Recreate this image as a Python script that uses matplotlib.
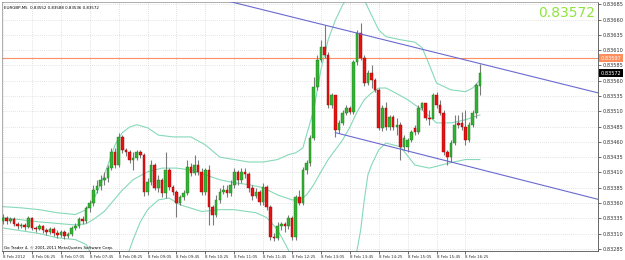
import matplotlib
matplotlib.use("Agg")
import matplotlib.pyplot as plt
import matplotlib.transforms as mtransforms
import numpy as np

# ---------------- data ----------------
title_text = "EURGBP,M5  0.83552 0.83588 0.83536 0.83572"
copyright_text = "Go Trader 4, \u00a9 2001-2011 MetaQuotes Software Corp."
last_price_text = "0.83572"

x_tick_bars = [0, 8, 16, 24, 32, 40, 48, 56, 64, 72, 80, 88, 96, 104, 112, 120, 128]
x_tick_labels = ["8 Feb 2012", "8 Feb 06:25", "8 Feb 07:05", "8 Feb 07:45", "8 Feb 08:25",
                 "8 Feb 09:05", "8 Feb 09:45", "8 Feb 10:25", "8 Feb 11:05", "8 Feb 11:45",
                 "8 Feb 12:25", "8 Feb 13:05", "8 Feb 13:45", "8 Feb 14:25", "8 Feb 15:05",
                 "8 Feb 15:45", "8 Feb 16:25"]
y_ticks = [0.83685, 0.83660, 0.83635, 0.83610, 0.83585, 0.83560, 0.83535, 0.83510, 0.83485,
           0.83460, 0.83435, 0.83410, 0.83385, 0.83360, 0.83335, 0.83310, 0.83285]

# prices in points (1e-5)
open_pts = [83331, 83336, 83331, 83334, 83326, 83323, 83324, 83321, 83336, 83319,
            83318, 83323, 83316, 83313, 83318, 83311, 83308, 83313, 83306, 83310,
            83319, 83323, 83334, 83331, 83352, 83360, 83381, 83388, 83398, 83401,
            83417, 83444, 83422, 83468, 83447, 83444, 83431, 83434, 83444, 83439,
            83378, 83395, 83422, 83385, 83398, 83377, 83414, 83386, 83378, 83360,
            83370, 83377, 83419, 83409, 83422, 83411, 83378, 83414, 83354, 83341,
            83365, 83378, 83381, 83377, 83390, 83411, 83398, 83411, 83408, 83385,
            83372, 83378, 83362, 83386, 83354, 83305, 83303, 83323, 83326, 83323,
            83336, 83305, 83370, 83360, 83414, 83426, 83466, 83550, 83594, 83615,
            83602, 83520, 83537, 83480, 83491, 83507, 83515, 83509, 83591, 83638,
            83597, 83556, 83573, 83561, 83545, 83483, 83515, 83484, 83501, 83484,
            83488, 83452, 83452, 83463, 83483, 83476, 83515, 83524, 83499, 83498,
            83537, 83520, 83507, 83444, 83435, 83458, 83491, 83491, 83484, 83463,
            83488, 83507, 83552]
high_pts = [83342, 83339, 83337, 83337, 83329, 83328, 83328, 83339, 83337, 83323,
            83326, 83324, 83319, 83321, 83321, 83315, 83316, 83315, 83313, 83323,
            83328, 83337, 83339, 83355, 83365, 83390, 83398, 83406, 83411, 83422,
            83450, 83450, 83475, 83471, 83450, 83447, 83444, 83447, 83447, 83442,
            83401, 83431, 83426, 83406, 83401, 83444, 83417, 83390, 83381, 83373,
            83381, 83431, 83426, 83439, 83431, 83417, 83417, 83422, 83357, 83373,
            83385, 83390, 83390, 83398, 83417, 83414, 83417, 83417, 83411, 83390,
            83385, 83381, 83393, 83390, 83357, 83311, 83329, 83329, 83329, 83341,
            83339, 83373, 83381, 83419, 83431, 83471, 83566, 83602, 83627, 83651,
            83607, 83540, 83537, 83496, 83512, 83520, 83519, 83594, 83643, 83654,
            83602, 83578, 83586, 83565, 83548, 83520, 83525, 83504, 83504, 83499,
            83493, 83471, 83466, 83480, 83488, 83520, 83525, 83524, 83512, 83540,
            83542, 83529, 83512, 83447, 83463, 83504, 83504, 83509, 83512, 83493,
            83512, 83556, 83588]
low_pts = [83326, 83326, 83328, 83323, 83318, 83319, 83316, 83319, 83316, 83313,
           83315, 83311, 83308, 83310, 83306, 83303, 83305, 83301, 83303, 83306,
           83316, 83319, 83326, 83328, 83346, 83355, 83377, 83381, 83390, 83395,
           83414, 83417, 83419, 83442, 83437, 83426, 83414, 83431, 83434, 83372,
           83373, 83390, 83381, 83378, 83370, 83368, 83381, 83373, 83337, 83357,
           83365, 83373, 83404, 83406, 83406, 83373, 83373, 83324, 83324, 83337,
           83360, 83375, 83370, 83372, 83385, 83390, 83393, 83401, 83378, 83365,
           83368, 83357, 83357, 83349, 83300, 83298, 83300, 83316, 83313, 83318,
           83300, 83300, 83357, 83357, 83408, 83421, 83463, 83545, 83591, 83597,
           83515, 83515, 83468, 83475, 83488, 83504, 83506, 83506, 83586, 83594,
           83551, 83553, 83548, 83542, 83480, 83478, 83480, 83480, 83480, 83471,
           83431, 83447, 83444, 83460, 83471, 83473, 83512, 83496, 83488, 83499,
           83515, 83504, 83439, 83422, 83427, 83455, 83483, 83480, 83455, 83460,
           83484, 83499, 83536]
close_pts = [83336, 83331, 83334, 83326, 83323, 83324, 83321, 83336, 83319, 83318,
             83323, 83316, 83313, 83318, 83311, 83308, 83313, 83306, 83310, 83319,
             83323, 83334, 83331, 83352, 83360, 83381, 83388, 83398, 83401, 83417,
             83444, 83422, 83468, 83447, 83444, 83431, 83434, 83444, 83439, 83378,
             83395, 83422, 83385, 83398, 83377, 83414, 83386, 83378, 83360, 83370,
             83377, 83419, 83409, 83422, 83411, 83378, 83414, 83354, 83341, 83365,
             83378, 83381, 83377, 83390, 83411, 83398, 83411, 83408, 83385, 83372,
             83378, 83362, 83386, 83354, 83305, 83303, 83323, 83326, 83323, 83336,
             83305, 83370, 83360, 83414, 83426, 83466, 83550, 83594, 83615, 83602,
             83520, 83537, 83480, 83491, 83507, 83515, 83509, 83591, 83638, 83597,
             83556, 83573, 83561, 83545, 83483, 83515, 83484, 83501, 83484, 83488,
             83452, 83466, 83463, 83476, 83476, 83515, 83524, 83499, 83498, 83537,
             83520, 83507, 83444, 83435, 83458, 83488, 83488, 83484, 83463, 83488,
             83507, 83553, 83572]

# Bollinger bands (bar index, price points)
band_bars_upper = [0, 5, 10, 15, 20, 23, 25, 27, 29, 31, 33, 35, 37, 40, 43, 47, 52, 56, 60, 64,
                   68, 72, 76, 79, 81, 83, 84, 86, 88, 90, 92, 94, 96, 98, 100, 102, 104, 106,
                   110, 114, 116, 118, 120, 124, 128, 130, 132]
band_upper_pts = [83354, 83352, 83349, 83344, 83341, 83349, 83365, 83390, 83422, 83455, 83475,
                  83484, 83488, 83483, 83471, 83468, 83468, 83455, 83435, 83431, 83427, 83427,
                  83431, 83439, 83442, 83450, 83471, 83512, 83578, 83627, 83659, 83684, 83700,
                  83705, 83692, 83667, 83643, 83632, 83627, 83623, 83614, 83586, 83556, 83545,
                  83542, 83548, 83561]
band_bars_mid = [0, 10, 20, 23, 25, 28, 30, 33, 36, 40, 44, 48, 52, 56, 60, 64, 68, 72, 76, 80,
                 82, 84, 86, 88, 90, 92, 94, 96, 98, 100, 102, 104, 106, 108, 112, 116, 120,
                 124, 128, 132]
band_mid_pts = [83336, 83329, 83324, 83326, 83333, 83346, 83360, 83381, 83398, 83411, 83417,
                83417, 83414, 83406, 83398, 83393, 83390, 83385, 83373, 83365, 83365, 83373,
                83390, 83411, 83431, 83447, 83463, 83484, 83509, 83529, 83540, 83548, 83548,
                83542, 83529, 83512, 83491, 83491, 83496, 83504]
band_bars_lower = [0, 10, 15, 20, 23, 25, 27, 29, 31, 34, 36, 38, 40, 43, 46, 49, 55, 60, 64,
                   70, 73, 76, 79, 82, 85, 88, 92, 95, 97, 98, 99, 100, 101, 102, 104, 106, 110,
                   114, 118, 124, 128, 132]
band_lower_pts = [83319, 83310, 83303, 83300, 83292, 83270, 83243, 83226, 83226, 83267, 83300,
                  83329, 83349, 83365, 83368, 83357, 83346, 83349, 83349, 83344, 83336, 83316,
                  83283, 83251, 83218, 83185, 83169, 83202, 83267, 83283, 83316, 83365, 83406,
                  83422, 83447, 83458, 83452, 83422, 83417, 83426, 83431, 83431]

# trend channel anchors (bar index, price points)
channel_upper = [(89, 83651), (132, 83588)]
channel_lower = [(92, 83475), (124, 83427)]
level_line_pts = 83597

# ---------------- styles ----------------
BULL = "#33b233"
BEAR = "#e41414"
WICK = "#7a7a7a"
BAND = "#86d9b8"
CHAN = "#6a6ad0"
LEVEL = "#ff8f5e"
GRID = "#c9c9c9"
SMALL = 2.9

o = np.array(open_pts) / 1e5
h = np.array(high_pts) / 1e5
l = np.array(low_pts) / 1e5
c = np.array(close_pts) / 1e5
idx = np.arange(len(o))

fig = plt.figure(figsize=(6.25, 2.6), dpi=100)
ax = fig.add_axes([2 / 625, 1 - 251 / 260, (598 - 2) / 625, (251 - 2) / 260])
ax.set_facecolor("white")

x_lo, x_hi = -0.3, 164.7
y_lo, y_hi = 0.832814, 0.836887
ax.set_xlim(x_lo, x_hi)
ax.set_ylim(y_lo, y_hi)

# grid
for xb in x_tick_bars:
    ax.axvline(xb, color=GRID, lw=0.5, ls=(0, (1, 2)), zorder=0)
for yv in y_ticks:
    ax.axhline(yv, color=GRID, lw=0.5, ls=(0, (1, 2)), zorder=0)

# bands
for bx, bv in ((band_bars_upper, band_upper_pts), (band_bars_mid, band_mid_pts),
               (band_bars_lower, band_lower_pts)):
    ax.plot(bx, np.array(bv) / 1e5, color=BAND, lw=0.8, zorder=1)

# candles
ax.vlines(idx, l, h, color=WICK, lw=0.8, zorder=2)
bull = c >= o
body_lo = np.minimum(o, c)
body_h = np.maximum(np.abs(c - o), 0.000012)
ax.bar(idx, body_h, bottom=body_lo, width=0.72,
       color=np.where(bull, BULL, BEAR), edgecolor=np.where(bull, "#1d7a1d", "#a00000"),
       linewidth=0.3, zorder=3)

# level line
ax.axhline(level_line_pts / 1e5, color=LEVEL, lw=0.8, zorder=1.5)

# channel lines
for (i1, p1), (i2, p2), start in ((channel_upper[0], channel_upper[1], x_lo),
                                  (channel_lower[0], channel_lower[1], channel_lower[0][0])):
    slope = (p2 - p1) / (i2 - i1)
    xs = np.array([start, x_hi])
    ys = (p1 + slope * (xs - i1)) / 1e5
    ax.plot(xs, ys, color=CHAN, lw=0.8, zorder=4)

# axes styling
for side in ("left", "top"):
    ax.spines[side].set_color("#a0a0a0")
    ax.spines[side].set_linewidth(0.6)
for side in ("right", "bottom"):
    ax.spines[side].set_color("#505050")
    ax.spines[side].set_linewidth(0.6)

ax.yaxis.tick_right()
ax.set_yticks(y_ticks)
ax.set_yticklabels([f"{v:.5f}" for v in y_ticks])
ax.tick_params(axis="y", labelsize=3.6, length=2, width=0.5, pad=1, colors="#303030")
ax.set_xticks(x_tick_bars)
ax.set_xticklabels(x_tick_labels, ha="left")
ax.tick_params(axis="x", labelsize=SMALL, length=2, width=0.5, pad=0.8, colors="#303030")

# right-hand price tags
trans = mtransforms.blended_transform_factory(ax.transAxes, ax.transData)
ax.text(1.004, level_line_pts / 1e5, f"{level_line_pts / 1e5:.5f}", transform=trans,
        fontsize=3.6, color="white", va="center", ha="left", zorder=10, clip_on=False,
        bbox=dict(boxstyle="square,pad=0.3", fc=LEVEL, ec=LEVEL, lw=0))
ax.text(1.004, c[-1], f"{c[-1]:.5f}", transform=trans,
        fontsize=3.6, color="white", va="center", ha="left", zorder=10, clip_on=False,
        bbox=dict(boxstyle="square,pad=0.3", fc="black", ec="black", lw=0))

# texts
ax.text(0.004, 0.985, title_text, transform=ax.transAxes, fontsize=SMALL, va="top", ha="left",
        color="black")
ax.text(0.004, 0.004, copyright_text, transform=ax.transAxes, fontsize=SMALL, va="bottom",
        ha="left", color="black")
ax.text(0.995, 0.985, last_price_text, transform=ax.transAxes, fontsize=10, va="top",
        ha="right", color="#8ee53f")

fig.savefig("out.png", dpi=100, facecolor="white")
